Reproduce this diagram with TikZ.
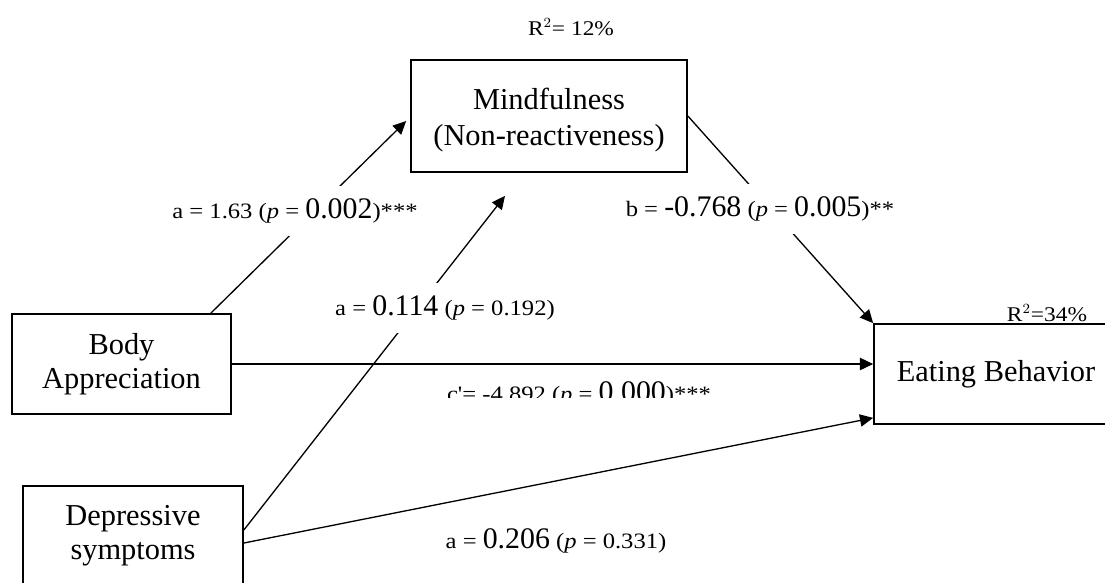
\documentclass[tikz,border=0pt]{standalone}
\usepackage{fontspec}
\setmainfont{Liberation Serif}
\newfontfamily\lblfont[FakeStretch=1.12]{Liberation Serif}
\usetikzlibrary{arrows.meta, positioning, calc}
\newcommand{\bignum}[1]{{\normalfont\fontsize{17}{18}\selectfont #1}}

\begin{document}
\begin{tikzpicture}[x=0.02cm, y=-0.02cm,
    box/.style={draw, line width=1pt, fill=white, inner sep=0pt, align=center,
                font=\fontsize{17.3}{19.5}\selectfont},
    arr/.style={-{Triangle[length=7.5pt, width=7pt]}, line width=0.75pt},
    lbl/.style={font=\lblfont\fontsize{12.5}{13}\selectfont, fill=white, inner xsep=2pt, inner ysep=7pt},
    note/.style={font=\lblfont\fontsize{11.9}{12}\selectfont, inner sep=1pt}
  ]
    \useasboundingbox (0,0) rectangle (1105,582);

    %% R^2 above Eating Behavior (partly hidden by the box)
    \node[note] (r2eat) at (1047,313) {R$^2$=34\%};

    %% Boxes
    \node[box, minimum width=5.52cm, minimum height=2.24cm] (mind) at (549,116) {};
    \node[align=center, font=\fontsize{17.3}{20.5}\selectfont] (mindtxt)
      at ($(mind.center)+(0,4)$) {Mindfulness\\(Non-reactiveness)};
    \node[box, minimum width=4.38cm, minimum height=2cm] (body) at (121.5,364) {Body\\Appreciation};
    \node[box, minimum width=4.4cm, minimum height=2cm] (dep) at (133,536) {Depressive\\symptoms};
    \node[box, minimum width=4.88cm, minimum height=2cm] (eat) at (996,374) {Eating Behavior};
    \node[note] (r2mind) at (571,27) {R$^2$= 12\%};

    %% free arrow end below Mindfulness
    \coordinate (mtip) at ($(mind.south)+(-44,23)$);

    %% Arrows
    \draw[arr] ($(body.north east)+(-21,0)$) -- ([shift={(-4,5)}]mind.west);
    \draw[arr] ($(dep.east)+(0,-6)$) -- (mtip);
    \draw[arr] (mind.east) -- (eat.north west);
    \draw[arr] (body.east) -- (body.east -| eat.west);
    \draw[arr] ($(dep.east)+(0,7)$) -- ($(eat.south west)+(0,-7)$);

    %% Path labels
    \node[lbl] (la1) at (295,211) {a = 1.63 (\textit{p} = \bignum{0.002})***};
    \node[lbl] (la2) at (445,308) {a = \bignum{0.114} (\textit{p} = 0.192)};
    \node[lbl] (lb) at (760,209) {b = \bignum{-0.768} (\textit{p} = \bignum{0.005})**};
    \begin{scope}
      \clip (400,370) rectangle (760,397);
      \node[lbl, fill=none, anchor=base] (lc) at (579,401) {c'= -4.892 (\textit{p} = \bignum{0.000})***};
    \end{scope}
    \node[lbl, fill=none] (la3) at (556,541) {a = \bignum{0.206} (\textit{p} = 0.331)};
  \end{tikzpicture}
\end{document}
